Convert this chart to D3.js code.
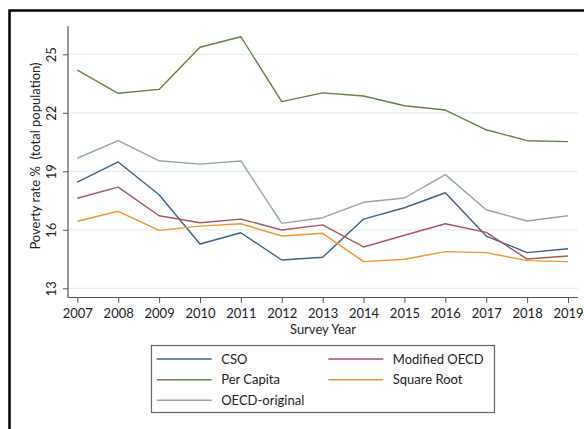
<!DOCTYPE html>
<html>
<head>
<meta charset="utf-8">
<script src="https://cdn.jsdelivr.net/npm/d3@7"></script>
<style>
  html, body { margin: 0; padding: 0; background: #fff; }
  svg { display: block; }
  text { font-family: Lato, "Open Sans", sans-serif; fill: #222; }
</style>
</head>
<body>
<div id="chart"></div>
<script>
const years = [2007, 2008, 2009, 2010, 2011, 2012, 2013, 2014, 2015, 2016, 2017, 2018, 2019];
const cso          = [18.45, 19.48, 17.80, 15.27, 15.85, 14.45, 14.59, 16.55, 17.13, 17.90, 15.68, 14.83, 15.03];
const perCapita    = [24.19, 23.00, 23.20, 25.36, 25.90, 22.57, 23.02, 22.86, 22.36, 22.14, 21.13, 20.57, 20.52];
const modifiedOECD = [17.62, 18.19, 16.72, 16.36, 16.55, 15.99, 16.25, 15.12, 15.72, 16.31, 15.87, 14.50, 14.66];
const squareRoot   = [16.44, 16.95, 15.97, 16.19, 16.31, 15.68, 15.82, 14.37, 14.49, 14.88, 14.83, 14.42, 14.37];
const oecdOriginal = [19.67, 20.57, 19.54, 19.37, 19.53, 16.33, 16.62, 17.41, 17.63, 18.83, 17.03, 16.45, 16.72];
const yTicks = [13, 16, 19, 22, 25];
const seriesNames = ["CSO", "Per Capita", "OECD-original", "Modified OECD", "Square Root"];
const yTitle = "Poverty rate %  (total population)";
const xTitle = "Survey Year";

const series = [
  { name: "CSO", values: cso, color: "#3b6288" },
  { name: "Per Capita", values: perCapita, color: "#5f8540" },
  { name: "OECD-original", values: oecdOriginal, color: "#90a99c" },
  { name: "Modified OECD", values: modifiedOECD, color: "#a8555b" },
  { name: "Square Root", values: squareRoot, color: "#ef962c" }
];

const W = 584, H = 429;
const svg = d3.select("#chart").append("svg").attr("width", W).attr("height", H);

// outer frame (clipped by viewport at right/bottom)
svg.append("rect").attr("x", 9.5).attr("y", 10.5).attr("width", 700).attr("height", 600)
  .attr("fill", "none").attr("stroke", "#000").attr("stroke-width", 2.5);

const plotL = 68, plotR = 578, plotT = 26, plotB = 297.5;
const x = d3.scaleLinear().domain([2007, 2019]).range([77.3, 568]);
const y = d3.scaleLinear().domain([13, 25]).range([288.3, 54.3]);

// gridlines
svg.append("g").selectAll("line").data(yTicks).join("line")
  .attr("x1", plotL).attr("x2", plotR)
  .attr("y1", d => y(d)).attr("y2", d => y(d))
  .attr("stroke", "#e6eef0").attr("stroke-width", 1.2);

// y axis
const yAxis = svg.append("g").attr("transform", `translate(${plotL},0)`)
  .call(d3.axisLeft(y).tickValues(yTicks).tickSize(5).tickPadding(3).tickFormat(d3.format("d")));
yAxis.select(".domain").remove();
yAxis.append("line").attr("x1", 0).attr("x2", 0).attr("y1", plotT).attr("y2", plotB)
  .attr("stroke", "#555").attr("stroke-width", 1.2);
yAxis.selectAll(".tick line").attr("stroke", "#555");
yAxis.selectAll(".tick text")
  .attr("transform", function(d) { return `rotate(-90, -17, 0)`; })
  .attr("x", -17).attr("dy", "0.35em").attr("text-anchor", "middle")
  .style("font-size", "13px").style("fill", "#222");

// x axis
const xAxis = svg.append("g").attr("transform", `translate(0,${plotB})`)
  .call(d3.axisBottom(x).tickValues(years).tickSize(5.5).tickPadding(6).tickFormat(d3.format("d")));
xAxis.select(".domain").remove();
xAxis.append("line").attr("x1", plotL).attr("x2", plotR).attr("y1", 0).attr("y2", 0)
  .attr("stroke", "#555").attr("stroke-width", 1.2);
xAxis.selectAll(".tick line").attr("stroke", "#555");
xAxis.selectAll(".tick text").style("font-size", "13px").style("fill", "#222");

// titles
svg.append("text").attr("x", (plotL + plotR) / 2).attr("y", 329).attr("dy", "0.35em")
  .attr("text-anchor", "middle").style("font-size", "13px").text(xTitle);
svg.append("text").attr("transform", "translate(35,156) rotate(-90)").attr("dy", "0.35em")
  .attr("text-anchor", "middle").style("font-size", "13px").style("white-space", "pre")
  .attr("xml:space", "preserve").text(yTitle);

// lines
const line = d3.line().x((d, i) => x(years[i])).y(d => y(d));
svg.append("g").selectAll("path").data(series).join("path")
  .attr("d", d => line(d.values))
  .attr("fill", "none").attr("stroke", d => d.color).attr("stroke-width", 1.4)
  .attr("stroke-linejoin", "round");

// legend
const lg = svg.append("g");
lg.append("rect").attr("x", 151.5).attr("y", 345.5).attr("width", 343).attr("height", 67)
  .attr("fill", "#fff").attr("stroke", "#666").attr("stroke-width", 1.2);
const legendPos = {
  "CSO": [0, 0], "Per Capita": [0, 1], "OECD-original": [0, 2],
  "Modified OECD": [1, 0], "Square Root": [1, 1]
};
const colX = [156.7, 328.3], rowY = [359, 379.7, 400.2];
const items = lg.selectAll("g.item").data(series).join("g").attr("class", "item")
  .attr("transform", d => `translate(${colX[legendPos[d.name][0]]},${rowY[legendPos[d.name][1]]})`);
items.append("line").attr("x1", 0).attr("x2", 55).attr("y1", 0).attr("y2", 0)
  .attr("stroke", d => d.color).attr("stroke-width", 1.6);
items.append("text").attr("x", 64.5).attr("dy", "0.35em").style("font-size", "13px")
  .text(d => d.name);
</script>
</body>
</html>
